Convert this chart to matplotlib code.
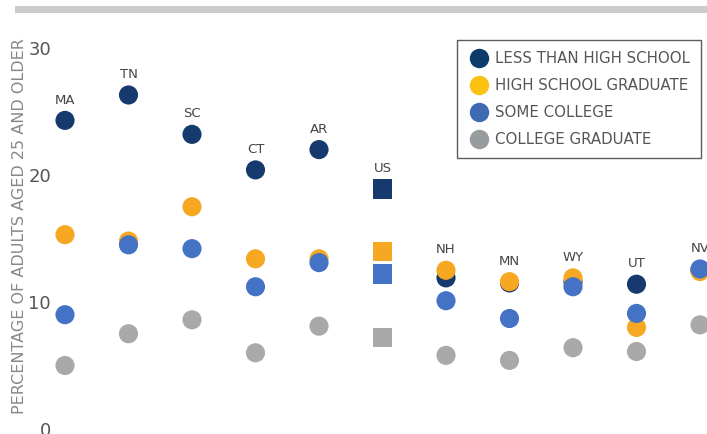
import matplotlib
matplotlib.use("Agg")
import matplotlib.pyplot as plt
from matplotlib.lines import Line2D
from matplotlib.patches import Rectangle

# data
states = ["MA", "TN", "SC", "CT", "AR", "US", "NH", "MN", "WY", "UT", "NV"]
less_hs = [24.3, 26.3, 23.2, 20.4, 22.0, 18.9, 11.9, 11.5, 11.6, 11.4, 12.5]
hs_grad = [15.3, 14.8, 17.5, 13.4, 13.4, 14.0, 12.5, 11.6, 11.9, 8.0, 12.4]
some_col = [9.0, 14.5, 14.2, 11.2, 13.1, 12.2, 10.1, 8.7, 11.2, 9.1, 12.6]
col_grad = [5.0, 7.5, 8.6, 6.0, 8.1, 7.2, 5.8, 5.4, 6.4, 6.1, 8.2]

series = ["LESS THAN HIGH SCHOOL", "HIGH SCHOOL GRADUATE", "SOME COLLEGE", "COLLEGE GRADUATE"]
point_colors = ["#173a6e", "#f7a823", "#4472c4", "#aaa8a8"]
legend_colors = ["#0b3c6b", "#fbc211", "#3e6ab3", "#979c9f"]

fig = plt.figure(figsize=(7.07, 4.34), dpi=100)
W, H = 707, 434
ax = fig.add_axes([58 / W, 5 / H, 1 - 58 / W, (429 - 48) / H])

# grey band along the top
fig.patches.append(Rectangle((15 / W, 1 - 13 / H), 1 - 15 / W, 7 / H,
                             transform=fig.transFigure, color="#cbcccd", lw=0))

x = list(range(len(states)))
values = [less_hs, hs_grad, some_col, col_grad]
# dark first, then yellow, blue, grey on top (as in the original)
for k, (vals, c) in enumerate(zip(values, point_colors)):
    for i in x:
        m = "s" if states[i] == "US" else "o"
        ax.scatter(i, vals[i], s=190, marker=m, color=c, edgecolors="none",
                   zorder=3 + k, clip_on=False)

for i, st in enumerate(states):
    top = max(v[i] for v in values)
    ax.annotate(st, (i, top), xytext=(0, 10), textcoords="offset points",
                ha="center", va="bottom", fontsize=9.5, color="#444444")

ax.set_xlim((58 - 65) / 63.5, (707 - 65) / 63.5)
ax.set_ylim(0, 30)
ax.set_yticks([0, 10, 20, 30])
ax.set_xticks([])
for s in ax.spines.values():
    s.set_visible(False)
ax.tick_params(axis="y", length=0, pad=5, labelsize=13, labelcolor="#555555")

fig.text(20 / W, 1 - 226 / H, "PERCENTAGE OF ADULTS AGED 25 AND OLDER", rotation=90,
         ha="center", va="center", fontsize=11.5, color="#888888")

handles = [Line2D([], [], marker="o", ls="", markersize=14, color=c, markeredgewidth=0)
           for c in legend_colors]
leg = fig.legend(handles, series, loc="upper left", bbox_to_anchor=(457 / W, 1 - 40 / H),
                 frameon=True, fancybox=False, fontsize=10.8, handletextpad=0.3,
                 labelspacing=0.8, borderpad=0.72, handlelength=1.5, borderaxespad=0)
leg.get_frame().set_edgecolor("#333333")
leg.get_frame().set_linewidth(1)
for t in leg.get_texts():
    t.set_color("#555555")

fig.savefig("out.png", dpi=100)
